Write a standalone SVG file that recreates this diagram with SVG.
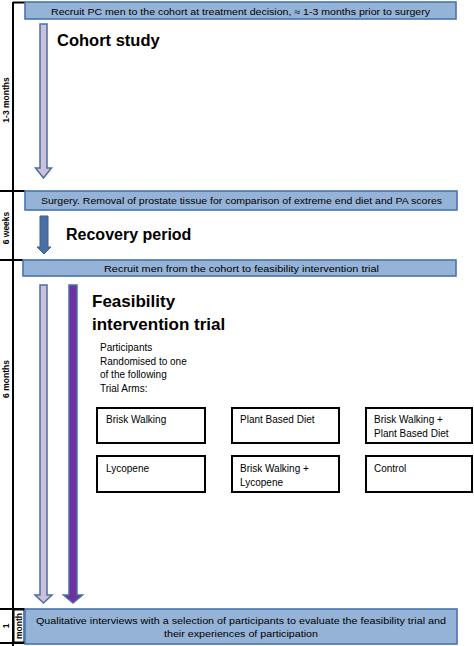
<svg xmlns="http://www.w3.org/2000/svg" width="474" height="646" viewBox="0 0 474 646">
<style>
.bar{fill:#95b3d7;stroke:#4a74ad;stroke-width:1.6}
.bt{font-family:"Liberation Sans",Arial,sans-serif;font-size:9.5px;fill:#000}
.tl{stroke:#000;stroke-width:2;fill:none}
.lbl{font-family:"Liberation Sans",Arial,sans-serif;font-size:8.5px;font-weight:bold;fill:#000}
.h{font-family:"Liberation Sans",Arial,sans-serif;font-weight:bold;fill:#000}
.arm{fill:#fff;stroke:#000;stroke-width:2}
.at{font-family:"Liberation Sans",Arial,sans-serif;font-size:10px;fill:#000}
.arrL{fill:#ccc0da;stroke:#4a6fa5;stroke-width:1.5}
.arrP{fill:#7030a0;stroke:#4a6fa5;stroke-width:1.5}
.arrS{fill:#4a6fa5;stroke:#3f5f90;stroke-width:1}
</style>
<g id="timeline">
<line class="tl" x1="13" y1="2" x2="13" y2="646"/>
<line class="tl" x1="13" y1="2.5" x2="25" y2="2.5"/>
<line class="tl" x1="0" y1="191" x2="25" y2="191"/>
<line class="tl" x1="0" y1="260" x2="23" y2="260"/>
<line class="tl" x1="0" y1="609" x2="25" y2="609"/>
<line class="tl" x1="0" y1="643" x2="25" y2="643"/>
<text class="lbl" transform="translate(9,100) rotate(-90)" text-anchor="middle">1-3 months</text>
<text class="lbl" transform="translate(9,228) rotate(-90)" text-anchor="middle">6 weeks</text>
<text class="lbl" transform="translate(9,379) rotate(-90)" text-anchor="middle">6 months</text>
<text class="lbl" transform="translate(9,626) rotate(-90)" text-anchor="middle">1</text>
<rect x="14" y="610" width="10" height="32" fill="#fff" stroke="#000" stroke-width="1"/>
<text class="lbl" transform="translate(22,626) rotate(-90)" text-anchor="middle">month</text>
</g>
<g id="connectors">
<polygon class="arrL" points="40,24 47,24 47,168 51.5,168 43.5,178 35.5,168 40,168"/>
<polygon class="arrS" points="40,216 48,216 48,247 51,247 44,254 37,247 40,247"/>
<polygon class="arrL" points="40,285 47,285 47,595 52,595 43.5,603 35,595 40,595"/>
<polygon class="arrP" points="69,285 77,285 77,595 82.5,595 73,603 63.5,595 69,595"/>
</g>
<g id="recruit">
<rect class="bar" x="25" y="2" width="431" height="17"/>
<text class="bt" x="240.5" y="15" text-anchor="middle" textLength="379" lengthAdjust="spacingAndGlyphs">Recruit PC men to the cohort at treatment decision, ≈ 1-3 months prior to surgery</text>
</g>
<g id="cohort">
<text class="h" x="57" y="46" font-size="16.5">Cohort study</text>
</g>
<g id="surgery">
<rect class="bar" x="25" y="191" width="432" height="19"/>
<text class="bt" x="241.5" y="203.5" text-anchor="middle" textLength="401" lengthAdjust="spacingAndGlyphs">Surgery. Removal of prostate tissue for comparison of extreme end diet and PA scores</text>
</g>
<g id="recovery">
<text class="h" x="66" y="240" font-size="16">Recovery period</text>
</g>
<g id="recruit-trial">
<rect class="bar" x="23" y="260" width="433" height="16"/>
<text class="bt" x="241.5" y="272" text-anchor="middle" textLength="275" lengthAdjust="spacingAndGlyphs">Recruit men from the cohort to feasibility intervention trial</text>
</g>
<g id="feasibility">
<text class="h" x="92" y="307" font-size="17">Feasibility</text>
<text class="h" x="92" y="330" font-size="17">intervention trial</text>
<text class="at" x="100" y="351" font-size="10.5">Participants</text>
<text class="at" x="100" y="364.5" font-size="10.5">Randomised to one</text>
<text class="at" x="100" y="378" font-size="10.5">of the following</text>
<text class="at" x="100" y="391.5" font-size="10.5">Trial Arms:</text>
</g>
<g id="arm-brisk">
<rect class="arm" x="97" y="408" width="108" height="35"/>
<text class="at" x="106" y="423">Brisk Walking</text>
</g>
<g id="arm-plant">
<rect class="arm" x="232" y="408" width="107" height="35"/>
<text class="at" x="240" y="423">Plant Based Diet</text>
</g>
<g id="arm-brisk-plant">
<rect class="arm" x="366" y="408" width="106" height="35"/>
<text class="at" x="374" y="423">Brisk Walking +</text>
<text class="at" x="374" y="437">Plant Based Diet</text>
</g>
<g id="arm-lycopene">
<rect class="arm" x="97" y="456" width="108" height="36"/>
<text class="at" x="106" y="472">Lycopene</text>
</g>
<g id="arm-brisk-lycopene">
<rect class="arm" x="232" y="456" width="107" height="36"/>
<text class="at" x="240" y="472">Brisk Walking +</text>
<text class="at" x="240" y="486">Lycopene</text>
</g>
<g id="arm-control">
<rect class="arm" x="366" y="456" width="106" height="36"/>
<text class="at" x="374" y="472">Control</text>
</g>
<g id="qualitative">
<rect class="bar" x="25" y="609" width="432" height="35"/>
<text class="bt" x="241" y="624" text-anchor="middle" textLength="410" lengthAdjust="spacingAndGlyphs">Qualitative interviews with  a selection of participants to evaluate the feasibility trial and</text>
<text class="bt" x="241" y="637" text-anchor="middle" textLength="154" lengthAdjust="spacingAndGlyphs">their experiences of participation</text>
</g>
</svg>
